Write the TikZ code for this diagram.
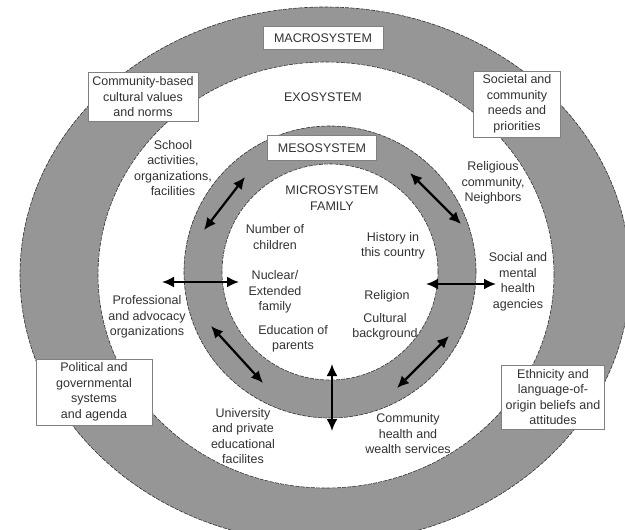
\documentclass[tikz,border=0pt]{standalone}
\usepackage{fontspec}
\setmainfont{Liberation Sans}
\usetikzlibrary{arrows.meta}
\definecolor{gris}{RGB}{150,150,150}
\definecolor{encre}{RGB}{50,50,50}
\tikzset{
    bord/.style={draw=encre,dash pattern=on 4pt off 1.2pt,line width=0.6pt},
    texte/.style={align=center,text=encre,inner sep=1pt,
      font=\fontsize{12.5}{15.5}\selectfont},
    boite/.style={texte,draw=gray,line width=0.5pt,fill=white,inner sep=4pt},
    fleche/.style={{Latex[length=12pt,width=11pt]}-{Latex[length=12pt,width=11pt]},line width=2.2pt},
  }
\begin{document}
\begin{tikzpicture}[x=1pt,y=-1pt]
				  %cadre : 625 x 530, y vers le bas
				  %anneaux : macro > exo > meso > micro
				  \useasboundingbox (0,0) rectangle (625,530);
				  \draw[bord,fill=gris] (325,275) ellipse [x radius=305pt,y radius=268pt];
				  \draw[bord,fill=white] (326,275) ellipse [x radius=228pt,y radius=213pt];
				  \draw[bord,fill=gris] (330,272) circle [radius=146pt];
				  \draw[bord,fill=white] (330,272) circle [radius=108pt];
				  %noms des systemes
				  \node[boite,minimum width=120,minimum height=23] (Macrosystem) at (323,38) {MACROSYSTEM};
				  \node[texte] (Exosystem) at (323,97) {EXOSYSTEM};
				  \node[boite,minimum width=109,minimum height=25] (Mesosystem) at (322,148) {MESOSYSTEM};
				  \node[texte] (Microsystem) at (332,198) {MICROSYSTEM\\FAMILY};
				  %macrosysteme
				  \node[boite,minimum width=110,minimum height=49] (CulturalValues) at (143,97) {Community-based\\cultural values\\and norms};
				  \node[boite,minimum width=87,minimum height=62] (Societal) at (517,104) {Societal and\\community\\needs and\\priorities};
				  \node[boite,minimum width=116,minimum height=61] (Political) at (94,392) {Political and\\governmental\\systems\\and agenda};
				  \node[boite,minimum width=103,minimum height=61] (Ethnicity) at (553,397) {Ethnicity and\\language-of-\\origin beliefs and\\attitudes};
				  %exosysteme
				  \node[texte] (School) at (173,168) {School\\activities,\\organizations,\\facilities};
				  \node[texte] (Religious) at (493,183) {Religious\\community,\\Neighbors};
				  \node[texte] (Professional) at (147,317) {Professional\\and advocacy\\organizations};
				  \node[texte] (Social) at (518,282) {Social and\\mental\\health\\agencies};
				  \node[texte] (University) at (243,436) {University\\and private\\educational\\facilites};
				  \node[texte] (CommunityHealth) at (408,434) {Community\\health and\\wealth services};
				  %microsysteme
				  \node[texte] (Children) at (275,237) {Number of\\children};
				  \node[texte] (Nuclear) at (275,292) {Nuclear/\\Extended\\family};
				  \node[texte] (Education) at (293,339) {Education of\\parents};
				  \node[texte] (History) at (393,246) {History in\\this country};
				  \node[texte] (Religion) at (387,296) {Religion};
				  \node[texte] (Cultural) at (385,327) {Cultural\\background};
				  %fleches doubles
				  \coordinate (NO_in) at (245,177);
				  \coordinate (NO_out) at (204,230);
				  \coordinate (NE_in) at (410,173);
				  \coordinate (NE_out) at (461,224);
				  \coordinate (O_in) at (239,282);
				  \coordinate (O_out) at (162,282);
				  \coordinate (E_in) at (426,284);
				  \coordinate (E_out) at (496,284);
				  \coordinate (SO_in) at (211,326);
				  \coordinate (SO_out) at (263,383);
				  \coordinate (SE_in) at (449,336);
				  \coordinate (SE_out) at (397,388);
				  \coordinate (S_in) at (332,364);
				  \coordinate (S_out) at (332,431);
				  \draw[fleche] (NO_in) -- (NO_out);
				  \draw[fleche] (NE_in) -- (NE_out);
				  \draw[fleche] (O_in) -- (O_out);
				  \draw[fleche] (E_in) -- (E_out);
				  \draw[fleche] (SO_in) -- (SO_out);
				  \draw[fleche] (SE_in) -- (SE_out);
				  \draw[fleche] (S_in) -- (S_out);
				  \end{tikzpicture}
\end{document}
